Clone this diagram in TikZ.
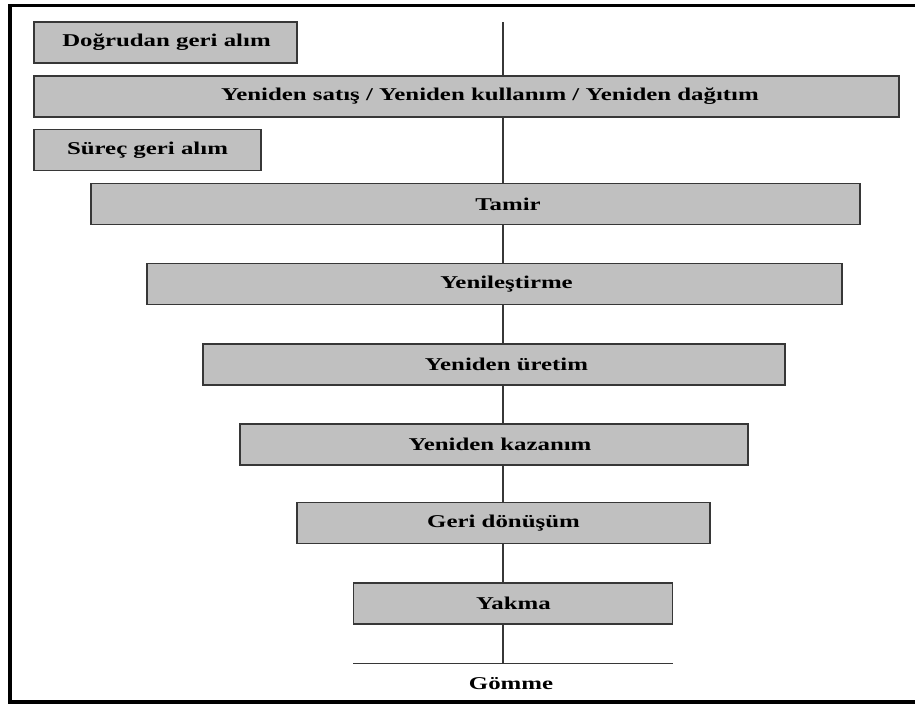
\documentclass[tikz,border=0pt]{standalone}
\usepackage{fontspec,graphicx}
\setmainfont{Liberation Serif}
\usetikzlibrary{positioning}
\definecolor{kutugri}{RGB}{192,192,192}
\definecolor{cizgi}{RGB}{55,55,55}
\newcommand{\genis}[1]{\scalebox{1.38}[1]{#1}}

\begin{document}
\begin{tikzpicture}[x=1pt,y=-1pt,
  kutu/.style={draw=cizgi,fill=kutugri,line width=1.6pt,inner sep=0pt,minimum height=41pt},
  yazi/.style={inner sep=0pt,font=\fontsize{18}{20}\selectfont\bfseries}]
\useasboundingbox (0,0) rectangle (915,704);
\clip (0,0) rectangle (915,704);
\draw[line width=3.8pt] (10,5.5) rectangle (940,701.8);
\coordinate (ust) at (503,22);
\coordinate (alt) at (503,663.3);
\coordinate (gsol) at (353,663.3);
\coordinate (gsag) at (673,663.3);
\draw[cizgi,line width=1.6pt] (ust)--(alt);
\draw[cizgi,line width=1.6pt] (gsol)--(gsag);
\node[kutu,minimum width=263pt] (dogrudan) at (165.5,42.5) {};
\node[kutu,minimum width=865pt] (satis) at (466.5,96.5) {};
\node[kutu,minimum width=227pt] (surec) at (147.5,150) {};
\node[kutu,minimum width=769pt] (tamir) at (475.5,204) {};
\node[kutu,minimum width=695pt] (yenilestirme) at (494.5,284) {};
\node[kutu,minimum width=582pt] (uretim) at (494,364.5) {};
\node[kutu,minimum width=508pt] (kazanim) at (494,444.5) {};
\node[kutu,minimum width=413pt] (donusum) at (503.5,523) {};
\node[kutu,minimum width=319pt] (yakma) at (513,603.5) {};
\node[yazi] (tdogrudan) at (166.5,42.5) {\genis{Doğrudan geri alım}};
\node[yazi] (tsatis) at (490,96.5) {\genis{Yeniden satış / Yeniden kullanım / Yeniden dağıtım}};
\node[yazi] (tsurec) at (147.5,150) {\genis{Süreç geri alım}};
\node[yazi] (ttamir) at (508,204) {\genis{Tamir}};
\node[yazi] (tyenilestirme) at (506.5,284) {\genis{Yenileştirme}};
\node[yazi] (turetim) at (506.5,364.5) {\genis{Yeniden üretim}};
\node[yazi] (tkazanim) at (500,444.5) {\genis{Yeniden kazanım}};
\node[yazi] (tdonusum) at (503.5,523) {\genis{Geri dönüşüm}};
\node[yazi] (tyakma) at (513.5,603.5) {\genis{Yakma}};
\node[yazi,below=14pt of alt,xshift=8pt] (gomme) {\genis{Gömme}};
\end{tikzpicture}
\end{document}
